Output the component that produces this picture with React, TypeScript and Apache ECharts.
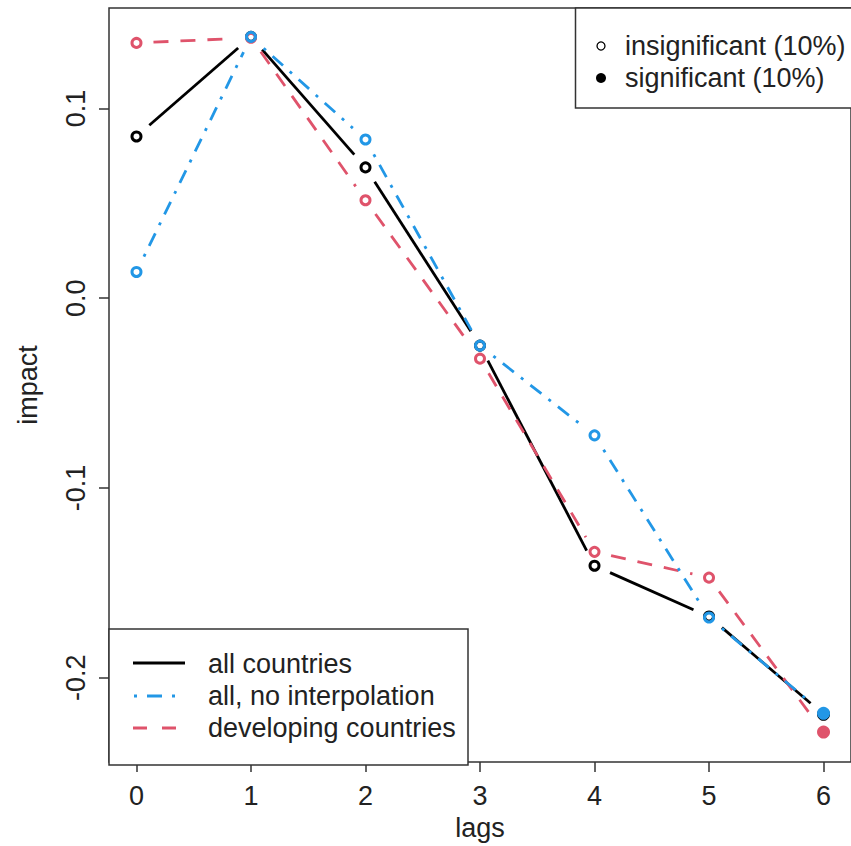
import React, { useEffect, useRef } from "react";
import * as echarts from "echarts";

const lags = [0, 1, 2, 3, 4, 5, 6];
const allCountries = [0.0852, 0.1377, 0.0689, -0.025, -0.141, -0.1678, -0.2193];
const allNoInterp = [0.0138, 0.1377, 0.0836, -0.025, -0.0723, -0.1683, -0.2188];
const developing = [0.1345, 0.1372, 0.0516, -0.0319, -0.1337, -0.1473, -0.2287];
const sigAll = [false, false, false, false, false, false, true];
const sigNoInterp = [false, false, false, false, false, false, true];
const sigDeveloping = [false, false, false, false, false, false, true];
const xTicks = [0, 1, 2, 3, 4, 5, 6];
const yTicks = [-0.2, -0.1, 0.0, 0.1];

const FONT = '"Liberation Sans", Arial, sans-serif';
const FS = 27;
const TXT = "#222";
const BLACK = "#000000";
const RED = "#DF536B";
const BLUE = "#2297E6";
const GAP = 17;

function segData(ys: number[]) {
  const out: number[][] = [];
  for (let i = 0; i < ys.length - 1; i++) out.push([lags[i], ys[i], lags[i + 1], ys[i + 1]]);
  return out;
}

function lineSeries(name: string, ys: number[], color: string, dash: number[] | null) {
  return {
    type: "custom",
    name,
    data: segData(ys),
    encode: { x: [0, 2], y: [1, 3] },
    renderItem: (params: any, api: any) => {
      const p1 = api.coord([api.value(0), api.value(1)]);
      const p2 = api.coord([api.value(2), api.value(3)]);
      const dx = p2[0] - p1[0];
      const dy = p2[1] - p1[1];
      const len = Math.sqrt(dx * dx + dy * dy);
      if (len <= 2 * GAP) return { type: "group", children: [] };
      const ux = dx / len;
      const uy = dy / len;
      return {
        type: "line",
        shape: {
          x1: p1[0] + ux * GAP,
          y1: p1[1] + uy * GAP,
          x2: p2[0] - ux * GAP,
          y2: p2[1] - uy * GAP,
        },
        style: { stroke: color, lineWidth: 2.8, lineDash: dash || undefined, fill: null },
      };
    },
    silent: true,
  };
}

function pointSeries(name: string, ys: number[], sig: boolean[], color: string) {
  return {
    type: "scatter",
    name,
    silent: true,
    itemStyle: { opacity: 1 },
    data: ys.map((y, i) =>
      sig[i]
        ? { value: [lags[i], y], symbolSize: 13, itemStyle: { color, borderWidth: 0, opacity: 1 } }
        : { value: [lags[i], y], symbolSize: 9, itemStyle: { color: "transparent", borderColor: color, borderWidth: 3, opacity: 1 } }
    ),
  };
}

export default function App() {
  const ref = useRef<HTMLDivElement>(null);
  useEffect(() => {
    if (!ref.current) return;
    const chart = echarts.init(ref.current, undefined, { renderer: "svg" });
    const textStyle = { fontFamily: FONT, fontSize: FS, color: TXT };
    chart.setOption({
      animation: false,
      backgroundColor: "#ffffff",
      grid: { left: 109, top: 8, width: 751, height: 757, show: true, borderColor: "#333", borderWidth: 1.5, backgroundColor: "transparent" },
      xAxis: {
        type: "value",
        min: -0.24,
        max: 6.24,
        name: "lags",
        nameLocation: "middle",
        nameGap: 48,
        nameTextStyle: textStyle,
        splitLine: { show: false },
        axisLine: { show: false, onZero: false },
        axisTick: { show: true, customValues: xTicks, length: 10, lineStyle: { color: "#333", width: 1.5 } },
        axisLabel: { customValues: xTicks, margin: 20, ...textStyle, formatter: (v: number) => String(v) },
      },
      yAxis: {
        type: "value",
        min: -0.2445,
        max: 0.1529,
        name: "impact",
        nameLocation: "middle",
        nameGap: 68,
        nameRotate: 90,
        nameTextStyle: textStyle,
        splitLine: { show: false },
        axisLine: { show: false, onZero: false },
        axisTick: { show: true, customValues: yTicks, length: 10, lineStyle: { color: "#333", width: 1.5 } },
        axisLabel: { customValues: yTicks, rotate: 90, margin: 20, ...textStyle, formatter: (v: number) => v.toFixed(1) },
      },
      series: [
        lineSeries("all countries", allCountries, BLACK, null),
        pointSeries("all countries pts", allCountries, sigAll, BLACK),
        lineSeries("developing countries", developing, RED, [15, 12]),
        pointSeries("developing countries pts", developing, sigDeveloping, RED),
        lineSeries("all, no interpolation", allNoInterp, BLUE, [3, 9, 14, 9]),
        pointSeries("all, no interpolation pts", allNoInterp, sigNoInterp, BLUE),
      ],
      graphic: [
        { type: "rect", shape: { x: 575.5, y: 8, width: 300, height: 100 }, style: { fill: "#fff", stroke: "#333", lineWidth: 1.5 }, z: 10 },
        { type: "circle", shape: { cx: 601, cy: 46, r: 4 }, style: { fill: "#fff", stroke: BLACK, lineWidth: 1.3 }, z: 11 },
        { type: "text", x: 625, y: 46, style: { text: "insignificant (10%)", font: `${FS}px ${FONT}`, fill: TXT, verticalAlign: "middle" }, z: 11 },
        { type: "circle", shape: { cx: 601, cy: 78, r: 5 }, style: { fill: BLACK }, z: 11 },
        { type: "text", x: 625, y: 78, style: { text: "significant (10%)", font: `${FS}px ${FONT}`, fill: TXT, verticalAlign: "middle" }, z: 11 },

        { type: "rect", shape: { x: 109, y: 629, width: 359, height: 136 }, style: { fill: "#fff", stroke: "#333", lineWidth: 1.5 }, z: 10 },
        { type: "line", shape: { x1: 133, y1: 663, x2: 185, y2: 663 }, style: { stroke: BLACK, lineWidth: 2.8 }, z: 11 },
        { type: "text", x: 208, y: 664, style: { text: "all countries", font: `${FS}px ${FONT}`, fill: TXT, verticalAlign: "middle" }, z: 11 },
        { type: "line", shape: { x1: 134, y1: 696, x2: 185, y2: 696 }, style: { stroke: BLUE, lineWidth: 2.8, lineDash: [3, 10, 15, 10] }, z: 11 },
        { type: "text", x: 208, y: 696, style: { text: "all, no interpolation", font: `${FS}px ${FONT}`, fill: TXT, verticalAlign: "middle" }, z: 11 },
        { type: "line", shape: { x1: 133, y1: 728, x2: 185, y2: 728 }, style: { stroke: RED, lineWidth: 2.8, lineDash: [14, 15] }, z: 11 },
        { type: "text", x: 208, y: 728, style: { text: "developing countries", font: `${FS}px ${FONT}`, fill: TXT, verticalAlign: "middle" }, z: 11 },
      ],
    });
    return () => chart.dispose();
  }, []);
  return (
    <div style={{ position: "fixed", left: 0, top: 0, width: 851, height: 846, background: "#fff" }}>
      <div ref={ref} style={{ width: 851, height: 846 }} />
    </div>
  );
}
